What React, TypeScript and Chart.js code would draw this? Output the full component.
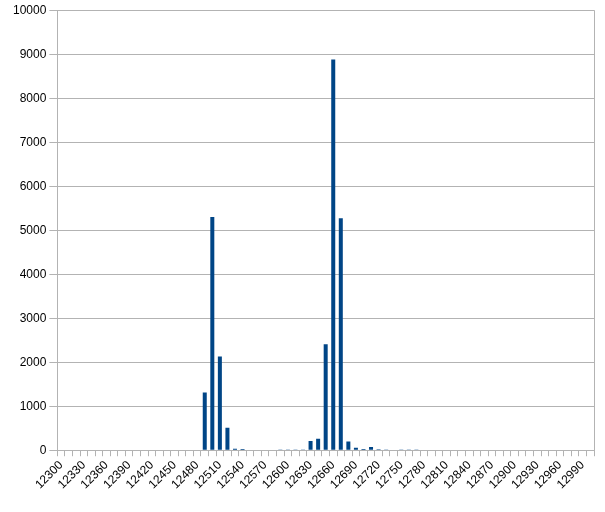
import React, { useEffect, useRef } from "react";
import { Chart, registerables } from "chart.js";

Chart.register(...registerables);

const categories: string[] = [];
for (let v = 12300; v <= 13000; v += 10) categories.push(String(v));

const zeros = (n: number) => new Array(n).fill(0);

// values for 12300..13000 step 10
const leadingZeros = zeros(19); // 12300..12480
const clusterA = [1310, 5300, 2130, 510, 35, 25, 10, 10, 8, 8, 5, 5, 3, 3]; // 12490..12620
const clusterB = [210, 260, 2410, 8880, 5270, 200, 55, 30, 75, 20, 15, 10, 15, 5, 5]; // 12630..12770
const trailingZeros = zeros(23); // 12780..13000
const values = [...leadingZeros, ...clusterA, ...clusterB, ...trailingZeros];

const yTicks = { min: 0, max: 10000, step: 1000 };

const GRID = "#b3b3b3";
const BAR = "#004586";
const FONT = { family: "'Liberation Sans', Arial, sans-serif", size: 12 };

const rightBorder = {
  id: "rightBorder",
  afterDraw(chart: any) {
    const { ctx, chartArea } = chart;
    ctx.save();
    ctx.strokeStyle = GRID;
    ctx.lineWidth = 1;
    ctx.beginPath();
    ctx.moveTo(Math.round(chartArea.right) + 0.5, chartArea.top);
    ctx.lineTo(Math.round(chartArea.right) + 0.5, chartArea.bottom);
    ctx.stroke();
    ctx.restore();
  },
};

export default function App() {
  const ref = useRef<HTMLCanvasElement>(null);
  useEffect(() => {
    document.body.style.margin = "0";
    const chart = new Chart(ref.current!, {
      type: "bar",
      data: {
        labels: categories,
        datasets: [
          {
            data: values,
            backgroundColor: BAR,
            borderWidth: 0,
            categoryPercentage: 1,
            barPercentage: 0.53,
          },
        ],
      },
      options: {
        animation: false,
        responsive: false,
        maintainAspectRatio: false,
        layout: { padding: { left: 10, right: 11, top: 4, bottom: 18 } },
        plugins: { legend: { display: false }, tooltip: { enabled: false } },
        scales: {
          x: {
            grid: {
              display: true,
              offset: true,
              drawOnChartArea: false,
              drawTicks: true,
              tickLength: 6,
              color: GRID,
            },
            border: { color: GRID },
            ticks: {
              autoSkip: false,
              minRotation: 45,
              maxRotation: 45,
              color: "#000",
              font: FONT,
              padding: 2,
              callback: (_v: any, i: number) => (i % 3 === 0 ? categories[i] : ""),
            },
          },
          y: {
            min: yTicks.min,
            max: yTicks.max,
            grid: { color: GRID, tickLength: 8 },
            border: { color: GRID },
            ticks: {
              stepSize: yTicks.step,
              color: "#000",
              font: FONT,
              padding: 3,
              callback: (v: any) => String(v),
            },
          },
        },
      },
      plugins: [rightBorder],
    });
    return () => chart.destroy();
  }, []);
  return <canvas ref={ref} width={605} height={512} style={{ display: "block" }} />;
}
